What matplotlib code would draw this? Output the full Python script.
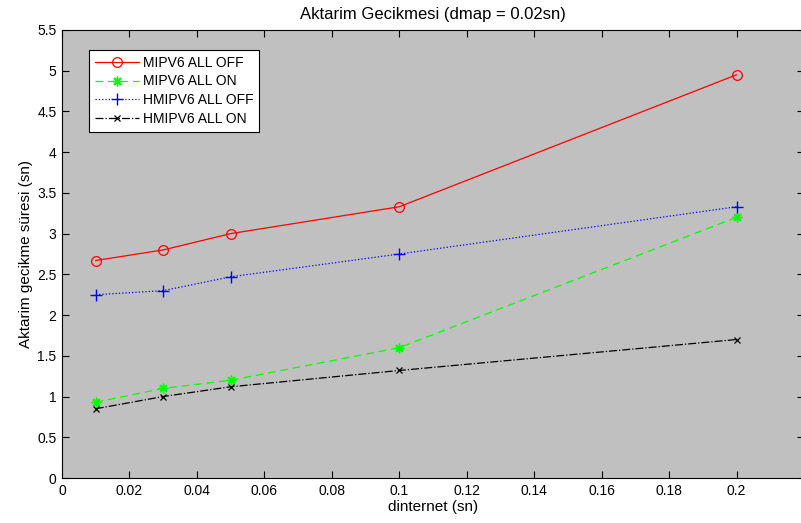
import matplotlib
matplotlib.use("Agg")
import matplotlib.pyplot as plt
import numpy as np

plt.rcParams['font.family'] = ['Liberation Sans', 'DejaVu Sans']

x = [0.01, 0.03, 0.05, 0.1, 0.2]
mipv6_off = [2.67, 2.8, 3.0, 3.33, 4.95]
mipv6_on = [0.93, 1.1, 1.2, 1.6, 3.2]
hmipv6_off = [2.25, 2.3, 2.47, 2.75, 3.33]
hmipv6_on = [0.85, 1.0, 1.12, 1.32, 1.7]
labels = ['MIPV6 ALL OFF', 'MIPV6 ALL ON', 'HMIPV6 ALL OFF', 'HMIPV6 ALL ON']
xticks = [0, 0.02, 0.04, 0.06, 0.08, 0.1, 0.12, 0.14, 0.16, 0.18, 0.2, 0.22]
xticklabels = ['0', '0.02', '0.04', '0.06', '0.08', '0.1', '0.12', '0.14', '0.16', '0.18', '0.2', '']
yticks = [0, 0.5, 1, 1.5, 2, 2.5, 3, 3.5, 4, 4.5, 5, 5.5]
yticklabels = ['0', '0.5', '1', '1.5', '2', '2.5', '3', '3.5', '4', '4.5', '5', '5.5']

W, H = 801, 523
fig = plt.figure(figsize=(W/100, H/100), dpi=100)
fig.patch.set_facecolor('white')
l, r, t, b = 62, 804, 30, 478
ax = fig.add_axes([l/W, 1-b/H, (r-l)/W, (b-t)/H])
ax.set_facecolor('#c0c0c0')

ax.plot(x, mipv6_off, '-', color='#ff0000', lw=0.9, marker='o', mfc='none', mec='#ff0000', ms=7, mew=0.9, label=labels[0])
ax.plot(x, mipv6_on, '--', color='#00ff00', lw=0.9, dashes=(6, 4), marker=(8, 2, 0), ms=7, mew=1.0, mec='#00ff00', label=labels[1])
ax.plot(x, hmipv6_off, ':', color='#0000ff', lw=0.9, marker='+', ms=9, mew=1.0, label=labels[2])
ax.plot(x, hmipv6_on, '-.', color='black', lw=0.9, marker='x', ms=5, mew=0.9, label=labels[3])

ax.set_xlim(0, 0.22)
ax.set_ylim(0, 5.5)
ax.set_xticks(xticks)
ax.set_xticklabels(xticklabels)
ax.set_yticks(yticks)
ax.set_yticklabels(yticklabels)
ax.tick_params(direction='in', length=5, width=0.8, top=True, right=True, labelsize=10, pad=4)
for s in ax.spines.values():
    s.set_linewidth(0.8)

ax.set_title('Aktarim Gecikmesi (dmap = 0.02sn)', fontsize=12, pad=8)
ax.set_xlabel('dinternet (sn)', fontsize=11, labelpad=2)
ax.set_ylabel('Aktarim gecikme süresi (sn)', fontsize=11, labelpad=3)

leg = ax.legend(loc='upper left', bbox_to_anchor=((89-l)/(r-l), 1-(50-t)/(b-t)), fontsize=10,
                frameon=True, fancybox=False, edgecolor='black', framealpha=1,
                borderaxespad=0, handlelength=3.2, labelspacing=0.35, borderpad=0.4, handletextpad=0.3)
leg.get_frame().set_linewidth(0.8)

fig.savefig('out.png', dpi=100)
